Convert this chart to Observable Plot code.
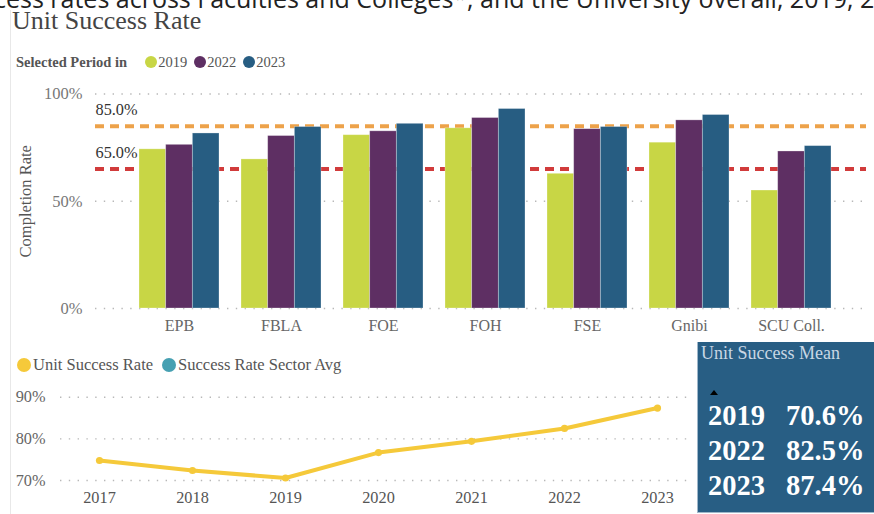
<!DOCTYPE html>
<html><head><meta charset="utf-8">
<script src="https://cdn.jsdelivr.net/npm/d3@7"></script>
<script src="https://cdn.jsdelivr.net/npm/@observablehq/plot@0.6"></script>
<style>
body{margin:0;background:#fff;}
#root{position:relative;width:874px;height:514px;overflow:hidden;background:#fff;font-family:"Liberation Serif","Times New Roman",serif;}
.abs{position:absolute;}
#toptext{font-family:"Open Sans",sans-serif;font-size:25px;color:#222;white-space:nowrap;top:-17px;line-height:1.2;}
#title{left:12px;top:6px;font-size:26px;color:#444;white-space:nowrap;background:transparent;}
#vline{left:10px;top:10px;width:1px;height:504px;background:#e8e8e8;}
.leg{display:flex;align-items:center;white-space:nowrap;}
.dot{display:inline-block;border-radius:50%;}
#kpi{left:697px;top:342px;width:177px;height:171px;background:#285E84;border-left:1px solid #9fb7ca;border-bottom:1px solid #9fb7ca;box-sizing:border-box;}
#kpiTitle{left:3px;top:1px;font-size:18px;color:#c9d7e5;white-space:nowrap;}
#tri{left:12px;top:48px;width:0;height:0;border-left:4px solid transparent;border-right:4px solid transparent;border-bottom:5px solid #000;}
.row{position:absolute;left:0;height:35px;line-height:35px;font-weight:bold;font-size:28.5px;color:#fff;white-space:nowrap;}
</style></head><body><div id="root"></div>
<script>
// ---------- data ----------
const faculties = ["EPB","FBLA","FOE","FOH","FSE","Gnibi","SCU Coll."];
const periods = ["2019","2022","2023"];
const rate2019 = [74.2,69.5,80.8,84.0,62.8,77.3,55.0];
const rate2022 = [76.3,80.4,82.6,88.8,83.6,87.7,73.2];
const rate2023 = [81.6,84.6,86.1,93.0,84.6,90.2,75.7];
const periodColors = ["#C8D645","#5E2F63","#275D82"];
const barTicks = [0,50,100];
const targets = [85,65];
const targetColors = ["#EDA24A","#D13B3B"];
const trendYears = ["2017","2018","2019","2020","2021","2022","2023"];
const trendRates = [74.8,72.4,70.6,76.7,79.4,82.5,87.4];
const trendTicks = [70,80,90];
const trendLegend = ["Unit Success Rate","Success Rate Sector Avg"];
const trendLegendColors = ["#F5C93A","#46A0B2"];
const meanYears = ["2019","2022","2023"];
const meanRates = [70.6,82.5,87.4];

const root = document.getElementById("root");
function el(tag, cls, id, parent){const e=document.createElement(tag); if(cls) e.className=cls; if(id) e.id=id; (parent||root).appendChild(e); return e;}

// ---------- header ----------
const headText = el("div","abs","toptext");
headText.textContent = "Success rates across Faculties and Colleges*, and the University overall, 2019, 2022 and 2023";
const probe = document.createElement("span"); probe.style.cssText='font-family:"Open Sans",sans-serif;font-size:25px;position:absolute;visibility:hidden;white-space:pre'; probe.textContent="Suc"; root.appendChild(probe);
headText.style.left = (-probe.getBoundingClientRect().width - 6) + "px"; probe.remove();
el("div","abs","vline");
el("div","abs","title").textContent = "Unit Success Rate";

const leg1 = el("div","abs leg"); leg1.style.cssText += "left:16px;top:52px;height:20px;font-size:14.5px;color:#555;";
const l1t = el("span",null,null,leg1); l1t.textContent="Selected Period in"; l1t.style.fontWeight="bold"; l1t.style.marginRight="18px";
periods.forEach((p,i)=>{const d=el("span","dot",null,leg1); d.style.cssText+=`width:12px;height:12px;background:${periodColors[i]};margin-right:1px;`; const t=el("span",null,null,leg1); t.textContent=p; t.style.marginRight="7px";});

// ---------- bar chart ----------
const W = 874, H1 = 270, ML = 95, MR = 8, MT = 23.5, MB = 32;
const xOpts = {domain: faculties, paddingInner: 0.22, paddingOuter: 0.366, align: 0.556};
const xs = Plot.scale({x: {type: "band", ...xOpts, range: [ML, W - MR]}});
const third = xs.bandwidth / 3;
const bars = [rate2019, rate2022, rate2023].flatMap((arr, i) => arr.map((v, j) => ({faculty: faculties[j], period: periods[i], value: v})));

const marks1 = [
  Plot.gridY(barTicks, {stroke: "#b8b8b8", strokeOpacity: 1, strokeWidth: 1.4, strokeDasharray: "1.4,7.4"}),
  ...targets.map((t, i) => Plot.ruleY([t], {stroke: targetColors[i], strokeWidth: 4, strokeDasharray: "9,6"})),
  ...periods.map((p, i) => Plot.barY(bars.filter(d => d.period === p), {x: "faculty", y: "value", fill: "period", insetLeft: i * third, insetRight: (2 - i) * third, stroke: "#ffffff", strokeOpacity: 0.35, strokeWidth: 0.8})),
  Plot.text(targets, {y: d => d, text: d => d.toFixed(1) + "%", frameAnchor: "left", textAnchor: "start", dy: -16, fontSize: 16.3, fill: "#333"}),
  Plot.axisY(barTicks, {tickSize: 0, tickPadding: 13, tickFormat: d => d + "%", fontSize: 16.5, color: "#777", label: null}),
  Plot.axisX({tickSize: 0, tickPadding: 11, fontSize: 16, color: "#666", label: null}),
  Plot.text(["Completion Rate"], {frameAnchor: "left", textAnchor: "middle", rotate: -90, dx: -70, fontSize: 16.5, fill: "#555"})
];
const chart1 = Plot.plot({
  width: W, height: H1, marginLeft: ML, marginRight: MR, marginTop: MT, marginBottom: MB,
  style: {fontFamily: '"Liberation Serif","Times New Roman",serif', background: "transparent", overflow: "visible"},
  x: {...xOpts},
  y: {domain: [0, 100]},
  color: {domain: periods, range: periodColors},
  marks: marks1
});
chart1.style.position = "absolute"; chart1.style.left = "0px"; chart1.style.top = "70px";
root.appendChild(chart1);

// ---------- trend chart ----------
const leg2 = el("div","abs leg"); leg2.style.cssText += "left:17px;top:355px;height:20px;font-size:16.5px;color:#555;";
trendLegend.forEach((s,i)=>{const d=el("span","dot",null,leg2); d.style.cssText+=`width:14px;height:14px;background:${trendLegendColors[i]};margin-right:2px;`; const t=el("span",null,null,leg2); t.textContent=s; t.style.marginRight="9px";});

const trend = trendYears.map((y, i) => ({year: y, rate: trendRates[i]}));
const W2 = 692, H2 = 134;
const chart2 = Plot.plot({
  width: W2, height: H2, marginLeft: 60, marginRight: 2, marginTop: 16.7, marginBottom: 34,
  style: {fontFamily: '"Liberation Serif","Times New Roman",serif', background: "transparent", overflow: "visible"},
  x: {type: "point", domain: trendYears, padding: 0.377, align: 0.545},
  y: {domain: [70, 90]},
  marks: [
    Plot.gridY(trendTicks, {stroke: "#b8b8b8", strokeOpacity: 1, strokeWidth: 1.4, strokeDasharray: "1.4,7.4"}),
    Plot.line(trend, {x: "year", y: "rate", stroke: trendLegendColors[0], strokeWidth: 4, curve: "linear"}),
    Plot.dot(trend, {x: "year", y: "rate", r: 3.6, fill: trendLegendColors[0]}),
    Plot.axisY(trendTicks, {tickSize: 0, tickPadding: 15, tickFormat: d => d + "%", fontSize: 16.3, color: "#666", label: null}),
    Plot.axisX({tickSize: 0, tickPadding: 10.5, fontSize: 16.3, color: "#555", label: null})
  ]
});
chart2.style.position = "absolute"; chart2.style.left = "0px"; chart2.style.top = "380px";
root.appendChild(chart2);

// ---------- KPI card ----------
const kpi = el("div","abs","kpi");
el("div","abs","kpiTitle",kpi).textContent = "Unit Success Mean";
el("div","abs","tri",kpi);
meanYears.forEach((y,i)=>{
  const r = el("div","row",null,kpi); r.style.top = (56 + i*35) + "px";
  const a = el("span",null,null,r); a.textContent = y; a.style.cssText="position:absolute;left:10px;";
  const b = el("span",null,null,r); b.textContent = meanRates[i].toFixed(1) + "%"; b.style.cssText="position:absolute;left:88px;";
});
</script>
</body></html>
